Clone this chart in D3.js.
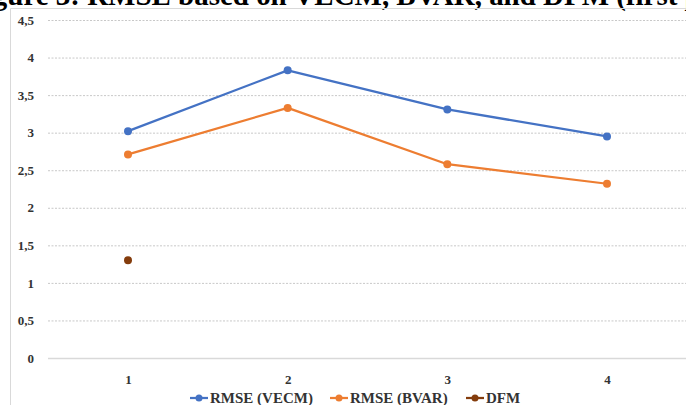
<!DOCTYPE html>
<html>
<head>
<meta charset="utf-8">
<script src="https://cdn.jsdelivr.net/npm/d3@7/dist/d3.min.js"></script>
<style>
  html, body { margin: 0; padding: 0; background: #fff; overflow: hidden; }
  svg { display: block; }
</style>
</head>
<body>
<svg id="chart" width="686" height="405"></svg>
<script>
// Forecast horizons and RMSE per model
const horizons = ["1", "2", "3", "4"];
const rmseVECM = [3.02, 3.83, 3.31, 2.95];
const rmseBVAR = [2.71, 3.33, 2.58, 2.32];
const rmseDFM  = [1.3, null, null, null];
const yTicks = [0, 0.5, 1, 1.5, 2, 2.5, 3, 3.5, 4, 4.5];
const seriesNames = ["RMSE (VECM)", "RMSE (BVAR)", "DFM"];
const seriesColors = ["#4472C4", "#ED7D31", "#843C0C"];
const captionText = "Figure 3: RMSE based on VECM, BVAR, and DFM (first period)";

const SERIF = "'Liberation Serif', 'Times New Roman', serif";

const series = [rmseVECM, rmseBVAR, rmseDFM].map((vals, i) => ({
  name: seriesNames[i], color: seriesColors[i], values: vals
}));

const svg = d3.select("#chart");
const W = 686, H = 405;

// Figure caption (runs off the top of the frame); sized so that
// "RMSE" starts near x=80 and "DFM" 456px further right
const measure = (str, size) => {
  const t = svg.append("text").attr("font-family", SERIF).attr("font-weight", "bold")
    .attr("font-size", size).text(str);
  const w = t.node().getComputedTextLength();
  t.remove();
  return w;
};
const pre = measure("Figure 3: ", 20);
const mid = measure("Figure 3: RMSE based on VECM, BVAR, and ", 20) - pre;
const capSize = 20 * 456 / mid;
svg.append("text")
  .attr("x", 80 - pre * capSize / 20).attr("y", 5)
  .attr("font-family", SERIF).attr("font-weight", "bold")
  .attr("font-size", capSize)
  .attr("fill", "#000")
  .text(captionText);

// Chart area frame
svg.append("path")
  .attr("d", `M10.5,${H} L10.5,8.5 L${W},8.5`)
  .attr("fill", "none").attr("stroke", "#d9d9d9").attr("stroke-width", 1);

const x = d3.scalePoint().domain(horizons).range([128, 607]);
const y = d3.scaleLinear().domain([0, 4.5]).range([358, 20]);
const fmt = d => String(d).replace(".", ",");

// Horizontal gridlines
const gy = svg.append("g").attr("transform", "translate(48,0)")
  .call(d3.axisLeft(y).tickValues(yTicks).tickSize(-(W - 48)).tickFormat(fmt));
gy.attr("font-family", SERIF).attr("font-weight", "bold");
gy.select(".domain").remove();
gy.selectAll(".tick line")
  .attr("stroke", d => d === 0 ? "#d9d9d9" : "#c8c8c8")
  .attr("stroke-dasharray", d => d === 0 ? null : "2,1.5")
  .attr("stroke-width", d => d === 0 ? 1.3 : 1);
gy.selectAll(".tick text")
  .attr("x", -14).attr("font-size", 13).attr("fill", "#333");

// Category axis labels
const gx = svg.append("g").attr("transform", "translate(0,358)")
  .call(d3.axisBottom(x).tickSize(0).tickPadding(17));
gx.attr("font-family", SERIF).attr("font-weight", "bold");
gx.select(".domain").remove();
gx.selectAll(".tick text").attr("font-size", 13).attr("fill", "#333");

// Lines and markers
const line = d3.line()
  .defined(d => d.v != null)
  .x(d => x(d.h)).y(d => y(d.v));

series.forEach(s => {
  const pts = s.values.map((v, i) => ({ h: horizons[i], v }));
  svg.append("path")
    .datum(pts)
    .attr("d", line)
    .attr("fill", "none")
    .attr("stroke", s.color)
    .attr("stroke-width", 2.25)
    .attr("stroke-linejoin", "round");
  svg.append("g").selectAll("circle")
    .data(pts.filter(d => d.v != null))
    .join("circle")
    .attr("cx", d => x(d.h)).attr("cy", d => y(d.v))
    .attr("r", 4).attr("fill", s.color);
});

// Legend
const legendX = [190, 330, 466];
const lg = svg.append("g").attr("transform", "translate(0,398)");
series.forEach((s, i) => {
  const g = lg.append("g").attr("transform", `translate(${legendX[i]},0)`);
  g.append("line").attr("x1", 0).attr("x2", 18).attr("y1", 0).attr("y2", 0)
    .attr("stroke", s.color).attr("stroke-width", 2.25);
  g.append("circle").attr("cx", 9).attr("cy", 0).attr("r", 3.5).attr("fill", s.color);
  g.append("text").attr("x", 20).attr("y", 5)
    .attr("font-family", SERIF).attr("font-weight", "bold")
    .attr("font-size", 15).attr("fill", "#333").text(s.name);
});
</script>
</body>
</html>
